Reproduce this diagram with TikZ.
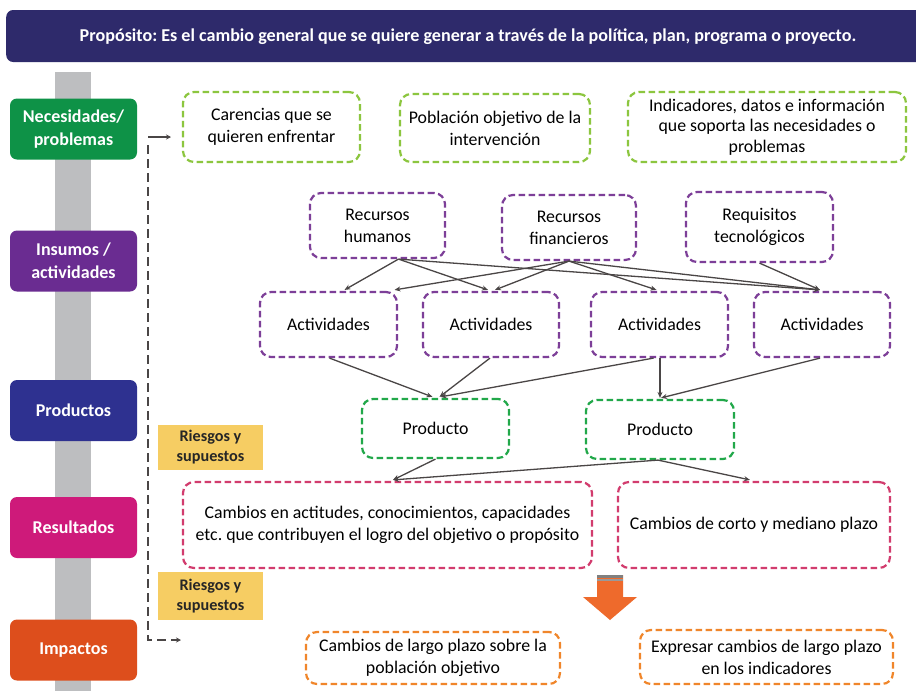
\documentclass[tikz,border=0pt]{standalone}
\usepackage{fontspec}
\setmainfont{Carlito}
\frenchspacing
\usetikzlibrary{arrows.meta,calc}
\definecolor{banner}{HTML}{2E2A6B}
\definecolor{cNec}{HTML}{0E9247}
\definecolor{cIns}{HTML}{6A2C91}
\definecolor{cPro}{HTML}{2E3190}
\definecolor{cRes}{HTML}{CE1A7A}
\definecolor{cImp}{HTML}{DD4E1C}
\definecolor{dGreenL}{HTML}{8CC63F}
\definecolor{dPurple}{HTML}{7D3F98}
\definecolor{dGreen}{HTML}{22A84A}
\definecolor{dMag}{HTML}{D23C6E}
\definecolor{dOra}{HTML}{F0862B}
\definecolor{riesgo}{HTML}{F6CD63}
\definecolor{barGray}{HTML}{BDBEC0}
\definecolor{conn}{HTML}{4A4646}
\definecolor{bigArrow}{HTML}{EE6A2C}
\tikzset{
  lab/.style={fill=#1, rounded corners=7pt, minimum width=127pt, minimum height=61pt,
    text=white, font=\bfseries\fontsize{18}{23}\selectfont, align=center, inner sep=0pt},
  dbox/.style={draw=#1, line width=2.2pt, dash pattern=on 6.5pt off 3.5pt, rounded corners=11pt,
    align=center, font=\fontsize{17.8}{22}\selectfont, inner sep=0pt, fill=white},
  riesbox/.style={fill=riesgo, minimum width=105pt, text=black!85,
    font=\bfseries\fontsize{16.2}{20}\selectfont, align=center, inner sep=0pt},
  conx/.style={draw=conn, line width=1.3pt, -{Stealth[length=6pt,width=5pt]}},
}
\begin{document}
\begin{tikzpicture}[x=1pt,y=-1pt]
\useasboundingbox (0,0) rectangle (916,691);
\clip (0,0) rectangle (916,691);
\fill[white] (0,0) rectangle (916,691);
% banner
\node[fill=banner, rounded corners=7pt, minimum width=930pt, minimum height=52pt, anchor=west,
  inner sep=0pt] (ban) at (6,36) {};
\node[text=white, font=\bfseries\fontsize{18.1}{22}\selectfont, inner sep=0pt] (bantxt) at (468,37)
  {Propósito: Es el cambio general que se quiere generar a través de la política, plan, programa o proyecto.};
% gray bar
\fill[barGray] (55,72) rectangle (91,691);
% left labels
\node[lab=cNec] (nec) at (73.5,129) {Necesidades/\\problemas};
\node[lab=cIns] (ins) at (73.5,261) {Insumos /\\actividades};
\node[lab=cPro] (pro) at (73.5,410.5) {Productos};
\node[lab=cRes] (res) at (73.5,527.5) {Resultados};
\node[lab=cImp] (imp) at (73.5,650) {Impactos};
% dashed guide line
\coordinate (g0) at (148,137);
\coordinate (g1) at (171,137);
\coordinate (g2) at (148,145);
\coordinate (g3) at (148,640);
\coordinate (g4) at (181,640);
\draw[draw=conn, line width=1.3pt, -{Stealth[length=5pt,width=5pt]}] (g0) -- (g1);
\draw[draw=conn, line width=2pt, dash pattern=on 9pt off 5pt, -{Stealth[length=5pt,width=5pt]}] (g2) -- (g3) -- (g4);
% row 1
\node[dbox=dGreenL, minimum width=177pt, minimum height=70pt] (car) at (271.5,127) {Carencias que se\\quieren enfrentar};
\node[dbox=dGreenL, minimum width=190pt, minimum height=68pt] (pob) at (495,128) {Población objetivo de la\\intervención};
\node[dbox=dGreenL, minimum width=278pt, minimum height=70pt, font=\fontsize{17.8}{20.5}\selectfont] (ind) at (767,127) {Indicadores, datos e información\\que soporta las necesidades o\\problemas};
% resources
\node[dbox=dPurple, minimum width=135pt, minimum height=65pt] (rh) at (377.5,225.5) {Recursos\\humanos};
\node[dbox=dPurple, minimum width=134pt, minimum height=65pt] (rf) at (569,227.5) {Recursos\\financieros};
\node[dbox=dPurple, minimum width=147pt, minimum height=70pt] (rt) at (759.5,227) {Requisitos\\tecnológicos};
% activities
\node[dbox=dPurple, minimum width=137pt, minimum height=65pt] (a1) at (328.5,324.5) {Actividades};
\node[dbox=dPurple, minimum width=136pt, minimum height=65pt] (a2) at (491,324.5) {Actividades};
\node[dbox=dPurple, minimum width=137pt, minimum height=65pt] (a3) at (659.5,324.5) {Actividades};
\node[dbox=dPurple, minimum width=136pt, minimum height=65pt] (a4) at (822,324.5) {Actividades};
% products
\node[dbox=dGreen, minimum width=147pt, minimum height=59pt] (p1) at (435.5,428.5) {Producto};
\node[dbox=dGreen, minimum width=148pt, minimum height=59pt] (p2) at (660,429.5) {Producto};
% results
\node[dbox=dMag, minimum width=409pt, minimum height=86pt] (c1) at (387.5,525) {Cambios en actitudes, conocimientos, capacidades\\etc. que contribuyen el logro del objetivo o propósito};
\node[dbox=dMag, minimum width=272pt, minimum height=86pt] (c2) at (754,525) {Cambios de corto y mediano plazo};
% impacts
\node[dbox=dOra, minimum width=254pt, minimum height=52pt] (i1) at (433,658) {Cambios de largo plazo sobre la\\población objetivo};
\node[dbox=dOra, minimum width=253pt, minimum height=54pt] (i2) at (766.5,657) {Expresar cambios de largo plazo\\en los indicadores};
% riesgos
\node[riesbox, minimum height=45pt] (r1) at (210.5,447.5) {Riesgos y\\supuestos};
\node[riesbox, minimum height=48pt] (r2) at (210.5,596) {Riesgos y\\supuestos};
% connectors resources -> activities
\draw[conx] ($(rh.south)+(21,0)$) -- ($(a1.north)+(16,-1)$);
\draw[conx] ($(rh.south)+(21,0)$) -- ($(a2.north)+(-3,-1)$);
\draw[conx] ($(rh.south)+(21,0)$) -- ($(a4.north)+(-2,-1)$);
\draw[conx] (rf.south) -- ($(a1.north)+(66,-1)$);
\draw[conx] (rf.south) -- ($(a2.north)+(4,-1)$);
\draw[conx] (rf.south) -- ($(a3.north)+(-3,-1)$);
\draw[conx] (rf.south) -- ($(a4.north)+(-2,-1)$);
\draw[conx] (rt.south) -- ($(a4.north)+(-2,-1)$);
% activities -> products
\draw[conx] ($(a1.south)+(1,0)$) -- ($(p1.north)+(-3,-1)$);
\draw[conx] ($(a2.south)+(-1,0)$) -- ($(p1.north)+(4,-1)$);
\draw[conx] ($(a3.south)+(-6,0)$) -- ($(p1.north)+(5,-1)$);
\draw[conx] ($(a3.south)+(0.5,0)$) -- ($(p2.north)+(0,-1)$);
\draw[conx] ($(a4.south)+(-2,0)$) -- ($(p2.north)+(1,-1)$);
% products -> results
\draw[conx] (p1.south) -- ($(c1.north)+(5.5,-1)$);
\draw[conx] ($(p2.south)+(-2,0)$) -- ($(c1.north)+(5.5,-1)$);
\draw[conx] ($(p2.south)+(-2,0)$) -- ($(c2.north)+(-4,-1)$);
% big orange arrow
\fill[bigArrow] (597,575) -- (623,575) -- (623,597) -- (637,597) -- (610,620) -- (583,597) -- (597,597) -- cycle;
\fill[gray] (597,575) rectangle (623,577.5);
\fill[gray!80] (597,579) rectangle (623,581);
\end{tikzpicture}
\end{document}
